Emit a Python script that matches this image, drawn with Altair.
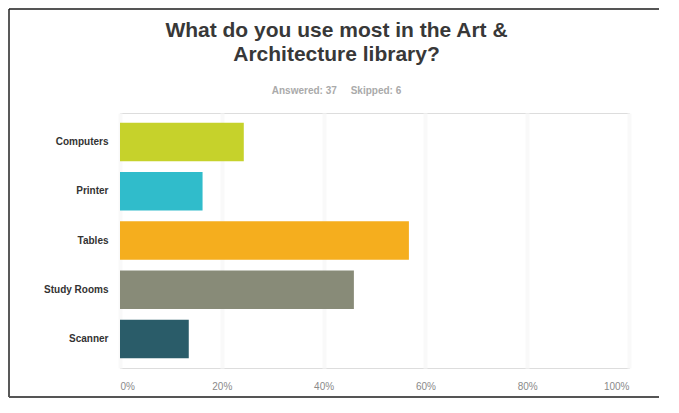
import altair as alt
import pandas as pd

categories = ["Computers", "Printer", "Tables", "Study Rooms", "Scanner"]
values = [24.32, 16.22, 56.76, 45.95, 13.51]
colors = ["#c6d22b", "#30bccb", "#f5ae1e", "#888b78", "#2a5c69"]
ticks = [0, 20, 40, 60, 80, 100]

df = pd.DataFrame({"cat": categories, "val": values, "color": colors})

W, H = 509, 255
PL, PT, PR, PB = 112, 105, 30, 30

bars = alt.Chart(df).mark_bar().encode(
    y=alt.Y("cat:N", sort=categories, title=None,
            scale=alt.Scale(paddingInner=0.22, paddingOuter=0.2),
            axis=alt.Axis(ticks=False, domain=False, labelPadding=12,
                          labelFont="Liberation Sans", labelFontSize=10,
                          labelFontWeight="bold", labelColor="#333333")),
    x=alt.X("val:Q", title=None,
            scale=alt.Scale(domain=[0, 100]),
            axis=alt.Axis(values=ticks, ticks=False, domain=False,
                          labelExpr="datum.value + '%'",
                          labelPadding=13, labelFont="Liberation Sans",
                          labelFontSize=10, labelColor="#8a8a8a",
                          gridColor="#f9f9f9", gridWidth=4)),
    color=alt.Color("color:N", scale=None),
)

frame_src = alt.Chart(pd.DataFrame({"k": [0]}))
top_line = frame_src.mark_rule(color="#555555", strokeWidth=2, clip=False).encode(
    x=alt.value(-PL + 1), x2=alt.value(W + PR), y=alt.value(-PT + 1))
left_line = frame_src.mark_rule(color="#222222", strokeWidth=1.5, clip=False).encode(
    x=alt.value(-PL + 1), y=alt.value(-PT + 1), y2=alt.value(H + PB - 1))
bottom_line = frame_src.mark_rule(color="#555555", strokeWidth=2, clip=False).encode(
    x=alt.value(-PL + 1), x2=alt.value(W + PR), y=alt.value(H + PB - 1))

chart = alt.layer(bars, top_line, left_line, bottom_line).properties(
    width=W, height=H,
    title=alt.TitleParams(
        text=["What do you use most in the Art &", "Architecture library?"],
        subtitle="Answered: 37\u00a0\u00a0\u00a0\u00a0\u00a0Skipped: 6",
        anchor="middle", frame="group", dx=-38,
        font="Liberation Sans", fontSize=21, fontWeight="bold",
        color="#383838", lineHeight=24,
        subtitleFont="Liberation Sans", subtitleFontSize=10,
        subtitleFontWeight="bold", subtitleColor="#aaaaaa",
        subtitlePadding=21, offset=-88,
    ),
    autosize=alt.AutoSizeParams(type="none"),
    padding={"left": PL, "top": PT, "right": PR, "bottom": PB},
).configure_view(fill="#efefef", stroke=None).configure(background="white")

chart.save("out.html", embed_options={"renderer": "svg", "actions": False})
